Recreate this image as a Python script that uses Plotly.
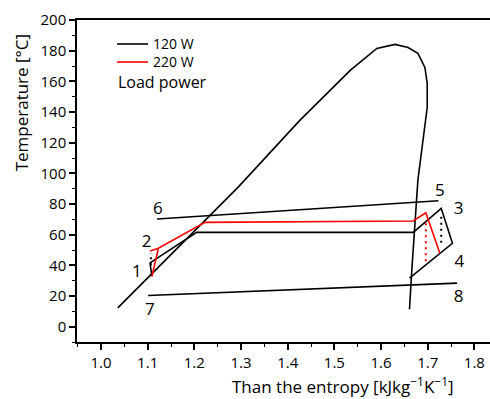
import plotly.graph_objects as go

# Saturation dome (black)
dome_s = [1.036, 1.294, 1.426, 1.534, 1.591, 1.630, 1.658, 1.679, 1.694, 1.699, 1.699, 1.679, 1.666, 1.661]
dome_T = [12.3, 91.0, 134.5, 167.1, 181.5, 184.1, 182.1, 178.2, 169.1, 158.7, 143.1, 95.6, 37.0, 11.4]

# Heat source line 6-5 and heat sink line 7-8
src_s = [1.120, 1.723]
src_T = [70.2, 82.1]
sink_s = [1.101, 1.763]
sink_T = [20.3, 28.4]

# 120 W cycle (black)
c120_s = [1.105, 1.205, 1.669, 1.729, 1.753, 1.661]
c120_T = [41.6, 61.5, 61.5, 77.2, 54.4, 31.6]
c120_pump_s = [1.109, 1.105]
c120_pump_T = [33.0, 41.6]
c120_isen_l_s = [1.107, 1.107]
c120_isen_l_T = [40.0, 48.0]
c120_isen_r_s = [1.729, 1.729]
c120_isen_r_T = [71.7, 54.4]

# 220 W cycle (red)
c220_s = [1.105, 1.123, 1.223, 1.669, 1.696, 1.726]
c220_T = [49.4, 51.1, 68.0, 68.9, 74.3, 47.9]
c220_pump_s = [1.109, 1.123]
c220_pump_T = [32.7, 51.1]
c220_isen_s = [1.696, 1.696]
c220_isen_T = [67.4, 40.3]

# State point labels
pt_labels = ["1", "2", "3", "4", "5", "6", "7", "8"]
pt_s = [1.077, 1.098, 1.766, 1.768, 1.726, 1.122, 1.105, 1.766]
pt_T = [35.0, 55.0, 76.0, 42.0, 88.0, 76.0, 10.5, 19.0]

legend_names = ["120 W", "220 W"]
legend_colors = ["#000000", "#ff0000"]

x_ticks = [1.0, 1.1, 1.2, 1.3, 1.4, 1.5, 1.6, 1.7, 1.8]
y_ticks = [0, 20, 40, 60, 80, 100, 120, 140, 160, 180, 200]

BLACK = "#000000"
RED = "#ff0000"
FONT = "Open Sans"

fig = go.Figure()

def line(xs, ys, color, dash="solid", width=1.6):
    fig.add_trace(go.Scatter(x=xs, y=ys, mode="lines",
                             line=dict(color=color, width=width, dash=dash),
                             showlegend=False, hoverinfo="skip"))

line(dome_s, dome_T, BLACK)
line(src_s, src_T, BLACK)
line(sink_s, sink_T, BLACK)
line(c120_s, c120_T, BLACK)
line(c120_pump_s, c120_pump_T, BLACK)
line(c120_isen_l_s, c120_isen_l_T, BLACK, dash="2px,4px", width=2)
line(c120_isen_r_s, c120_isen_r_T, BLACK, dash="2px,4px", width=2)
line(c220_s, c220_T, RED)
line(c220_pump_s, c220_pump_T, RED)
line(c220_isen_s, c220_isen_T, RED, dash="2px,4px", width=2)

fig.add_trace(go.Scatter(x=pt_s, y=pt_T, mode="text", text=pt_labels,
                         textfont=dict(family=FONT, size=17, color=BLACK),
                         showlegend=False, hoverinfo="skip"))

# Manual legend (paper coordinates)
leg_y = [0.9255, 0.8696]
for name, col, yy in zip(legend_names, legend_colors, leg_y):
    fig.add_shape(type="line", xref="paper", yref="paper",
                  x0=0.097, x1=0.172, y0=yy, y1=yy,
                  line=dict(color=col, width=1.6))
    fig.add_annotation(text=name, xref="paper", yref="paper",
                       x=0.180, y=yy, xanchor="left", yanchor="middle",
                       showarrow=False, font=dict(family=FONT, size=14, color=BLACK))

fig.add_annotation(text="Load power", xref="paper", yref="paper",
                   x=0.094, y=0.807, xanchor="left", yanchor="middle",
                   showarrow=False, font=dict(family=FONT, size=16, color=BLACK))
fig.add_annotation(text="Temperature [°C]", xref="paper", yref="paper",
                   x=-0.135, y=0.745, xanchor="center", yanchor="middle",
                   textangle=-90, showarrow=False,
                   font=dict(family=FONT, size=17, color=BLACK))
fig.add_annotation(text="Than the entropy [kJkg<sup>−1</sup>K<sup>−1</sup>]",
                   xref="paper", yref="paper", x=0.644, y=-0.135,
                   xanchor="center", yanchor="middle", showarrow=False,
                   font=dict(family=FONT, size=17, color=BLACK))

fig.update_layout(
    width=490, height=399,
    margin=dict(l=77, r=0, t=20, b=57, autoexpand=False),
    paper_bgcolor="white", plot_bgcolor="white",
    font=dict(family=FONT, size=15, color=BLACK),
    showlegend=False,
    xaxis=dict(range=[0.9486, 1.8335], tickvals=x_ticks,
               ticktext=[f"{v:.1f}" for v in x_ticks], automargin=False,
               ticklabeloverflow="allow",
               showgrid=False, zeroline=False, showline=True, linecolor=BLACK,
               linewidth=1.5, mirror=True, ticks="outside", ticklen=6, tickwidth=1.5,
               tickcolor=BLACK, minor=dict(dtick=0.05, tick0=0.95, ticks="outside",
                                           ticklen=3, tickwidth=1.2, tickcolor=BLACK),
               tickfont=dict(family=FONT, size=15)),
    yaxis=dict(range=[-10, 200], tickvals=y_ticks, showgrid=False, zeroline=False,
               automargin=False,
               showline=True, linecolor=BLACK, linewidth=1.5, ticks="outside",
               ticklen=6, tickwidth=1.5, tickcolor=BLACK,
               minor=dict(dtick=10, tick0=0, ticks="outside", ticklen=3,
                          tickwidth=1.2, tickcolor=BLACK),
               tickfont=dict(family=FONT, size=15)),
)

# Remove the default page margin so the 490x399 figure fills the window exactly.
fig.write_html("out.html",
               config={"displayModeBar": False},
               post_script="document.body.style.margin='0';"
                           "document.body.style.overflow='hidden';")
